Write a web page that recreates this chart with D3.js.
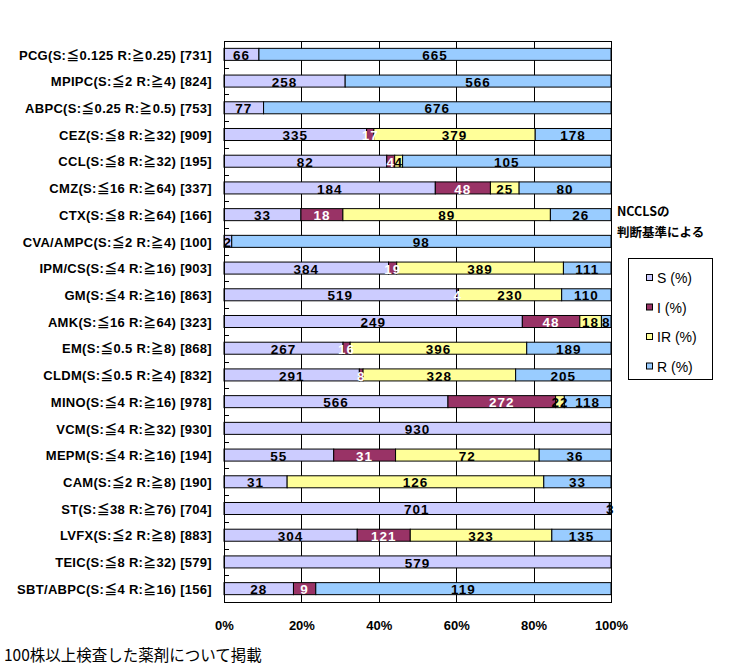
<!DOCTYPE html>
<html lang="ja">
<head>
    <meta charset="utf-8">
    <title>NCCLS susceptibility</title>
    <script src="https://d3js.org/d3.v7.min.js"></script>
    <style>
        body { margin: 0; background: #fff; }
        svg { display: block; }
        .cat text { font-family: "Liberation Sans", "Noto Sans CJK JP", sans-serif; font-weight: bold; font-size: 13px; letter-spacing: 0.3px; fill: #000; }
        .pct text { font-family: "Liberation Sans Narrow", "Liberation Sans", sans-serif; font-weight: bold; font-size: 13px; fill: #000; }
        .seg-label { font-family: "Liberation Sans Narrow", "Liberation Sans", sans-serif; font-weight: bold; font-size: 13.5px; letter-spacing: 1px; }
    </style>
</head>
<body>
<div id="chart"></div>
<script>
    // drug labels, top to bottom
    const drugs = [
        "PCG(S:≦0.125 R:≧0.25) [731]",
        "MPIPC(S:≦2 R:≧4) [824]",
        "ABPC(S:≦0.25 R:≧0.5) [753]",
        "CEZ(S:≦8 R:≧32) [909]",
        "CCL(S:≦8 R:≧32) [195]",
        "CMZ(S:≦16 R:≧64) [337]",
        "CTX(S:≦8 R:≧64) [166]",
        "CVA/AMPC(S:≦2 R:≧4) [100]",
        "IPM/CS(S:≦4 R:≧16) [903]",
        "GM(S:≦4 R:≧16) [863]",
        "AMK(S:≦16 R:≧64) [323]",
        "EM(S:≦0.5 R:≧8) [868]",
        "CLDM(S:≦0.5 R:≧4) [832]",
        "MINO(S:≦4 R:≧16) [978]",
        "VCM(S:≦4 R:≧32) [930]",
        "MEPM(S:≦4 R:≧16) [194]",
        "CAM(S:≦2 R:≧8) [190]",
        "ST(S:≦38 R:≧76) [704]",
        "LVFX(S:≦2 R:≧8) [883]",
        "TEIC(S:≦8 R:≧32) [579]",
        "SBT/ABPC(S:≦4 R:≧16) [156]"
    ];
    // strain counts per category
    const sVals  = [66, 258, 77, 335, 82, 184, 33, 2, 384, 519, 249, 267, 291, 566, 930, 55, 31, 701, 304, 579, 28];
    const iVals  = [0, 0, 0, 17, 4, 48, 18, 0, 19, 4, 48, 16, 8, 272, 0, 31, 0, 0, 121, 0, 9];
    const irVals = [0, 0, 0, 379, 4, 25, 89, 0, 389, 230, 18, 396, 328, 22, 0, 72, 126, 0, 323, 0, 0];
    const rVals  = [665, 566, 676, 178, 105, 80, 26, 98, 111, 110, 8, 189, 205, 118, 0, 36, 33, 3, 135, 0, 119];

    const keys = ["S", "I", "IR", "R"];
    const legendNames = ["S (%)", "I (%)", "IR (%)", "R (%)"];
    const pctTicks = [0, 0.2, 0.4, 0.6, 0.8, 1];
    const colors = d3.scaleOrdinal().domain(keys).range(["#ccccff", "#993366", "#ffff99", "#99ccff"]);

    const rows = drugs.map((d, i) => {
        const total = sVals[i] + iVals[i] + irVals[i] + rVals[i];
        return {drug: d, S: sVals[i], I: iVals[i], IR: irVals[i], R: rVals[i], total: total};
    });

    const width = 737, height = 671;
    const margin = {top: 41, left: 224, right: 126, bottom: 69};

    const svg = d3.select("#chart").append("svg")
        .attr("width", width).attr("height", height);

    const x = d3.scaleLinear().domain([0, 1]).range([margin.left, width - margin.right]);
    const y = d3.scaleBand().domain(drugs)
        .range([margin.top, height - margin.bottom])
        .paddingInner(0.55).paddingOuter(0.275);

    // vertical grid lines
    svg.append("g").selectAll("line")
        .data(pctTicks.slice(1, -1))
        .join("line")
        .attr("x1", d => Math.round(x(d)) + 0.5).attr("x2", d => Math.round(x(d)) + 0.5)
        .attr("y1", margin.top).attr("y2", height - margin.bottom)
        .attr("stroke", "#000");

    // stacked percentages
    const series = d3.stack().keys(keys)
        .value((d, k) => d[k] / d.total)(rows);

    const segs = [];
    series.forEach(s => s.forEach(p => {
        if (p.data[s.key] > 0) segs.push({key: s.key, x0: p[0], x1: p[1], row: p.data});
    }));

    svg.append("g").selectAll("rect")
        .data(segs)
        .join("rect")
        .attr("x", d => x(d.x0))
        .attr("y", d => y(d.row.drug))
        .attr("width", d => x(d.x1) - x(d.x0))
        .attr("height", y.bandwidth())
        .attr("fill", d => colors(d.key))
        .attr("stroke", "#000")
        .attr("stroke-width", 1);

    svg.append("g").selectAll("text")
        .data(segs)
        .join("text")
        .attr("class", "seg-label")
        .attr("x", d => (x(d.x0) + x(d.x1)) / 2)
        .attr("y", d => y(d.row.drug) + y.bandwidth() / 2)
        .attr("dy", "0.42em")
        .attr("text-anchor", "middle")
        .attr("fill", d => d.key === "I" ? "#fff" : "#000")
        .text(d => d.row[d.key]);

    // plot frame
    svg.append("rect")
        .attr("x", margin.left + 0.5).attr("y", margin.top + 0.5)
        .attr("width", x(1) - x(0)).attr("height", height - margin.bottom - margin.top)
        .attr("fill", "none").attr("stroke", "#000");

    // category boundary ticks
    svg.append("g").selectAll("line")
        .data(drugs.slice(1))
        .join("line")
        .attr("x1", margin.left).attr("x2", margin.left + 5)
        .attr("y1", d => Math.round(y(d) - y.step() * y.paddingInner() / 2) + 0.5)
        .attr("y2", d => Math.round(y(d) - y.step() * y.paddingInner() / 2) + 0.5)
        .attr("stroke", "#000");

    svg.append("g")
        .attr("class", "cat")
        .attr("transform", `translate(${margin.left},0)`)
        .call(d3.axisLeft(y).tickSize(0).tickPadding(12))
        .call(g => g.select(".domain").remove())
        .call(g => g.selectAll("text").attr("dy", "0.4em"));

    svg.append("g")
        .attr("class", "pct")
        .attr("transform", `translate(0,${height - margin.bottom})`)
        .call(d3.axisBottom(x).tickValues(pctTicks).tickFormat(d3.format(".0%")).tickSize(0).tickPadding(19))
        .call(g => g.select(".domain").remove());

    // legend title
    const title = svg.append("g")
        .attr("font-family", "'Noto Sans CJK JP', sans-serif")
        .attr("font-weight", "bold").attr("font-size", 12.5);
    title.append("text").attr("x", 617).attr("y", 216).text("NCCLSの");
    title.append("text").attr("x", 617).attr("y", 237).text("判断基準による");

    // legend
    svg.append("rect")
        .attr("x", 628.5).attr("y", 258.5).attr("width", 84).attr("height", 121)
        .attr("fill", "#fff").attr("stroke", "#000");

    const leg = svg.append("g").selectAll("g")
        .data(keys)
        .join("g")
        .attr("transform", (d, i) => `translate(646,${278 + i * 29.5})`);
    leg.append("rect")
        .attr("x", 0.5).attr("y", -3.5).attr("width", 6).attr("height", 6)
        .attr("fill", d => colors(d)).attr("stroke", "#000");
    leg.append("text")
        .attr("x", 11).attr("y", 0).attr("dy", "0.36em")
        .attr("font-family", "'Liberation Sans', Arial, sans-serif")
        .attr("font-size", 14)
        .text((d, i) => legendNames[i]);

    svg.append("text")
        .attr("x", 4).attr("y", 661)
        .attr("font-family", "'Noto Sans CJK JP', sans-serif")
        .attr("font-size", 15.5)
        .text("100株以上検査した薬剤について掲載");
</script>
</body>
</html>
